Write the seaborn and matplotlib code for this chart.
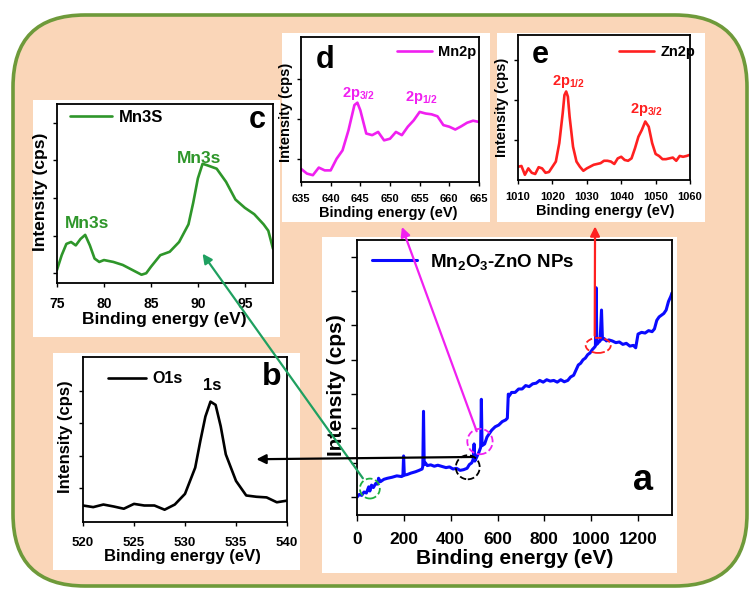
import matplotlib
matplotlib.use("Agg")
import matplotlib.pyplot as plt
import seaborn as sns
import pandas as pd
from matplotlib.patches import FancyBboxPatch, Rectangle, Ellipse, ConnectionPatch

# ---- data (intensity in arbitrary units) ----
# (a) survey spectrum
survey_ev = [0, 10, 20, 30, 40, 50, 55, 62, 70, 80, 88, 92, 100, 115, 130, 150, 170, 190,
             196, 199, 202, 215, 230, 250, 265, 278, 281, 284, 287, 292, 300, 315, 330, 345,
             360, 380, 395, 410, 425, 440, 455, 470, 480, 490, 496, 500, 503, 510, 520, 528,
             531, 534, 545, 555, 565, 575, 590, 605, 620, 635, 642, 646, 650, 660, 675, 690,
             705, 720, 735, 750, 765, 780, 795, 810, 825, 840, 855, 870, 885, 900, 912, 925,
             935, 945, 955, 965, 975, 985, 995, 1005, 1012, 1018, 1021, 1024, 1030, 1038,
             1044, 1048, 1055, 1065, 1075, 1090, 1105, 1120, 1135, 1150, 1165, 1180, 1190,
             1195, 1200, 1215, 1230, 1245, 1260, 1270, 1280, 1290, 1300, 1310, 1320, 1330,
             1340, 1345]
survey_int = [0.00, 0.08, 0.05, 0.15, 0.12, 0.30, 0.18, 0.35, 0.28, 0.40, 0.38, 0.55, 0.45,
              0.52, 0.55, 0.58, 0.62, 0.60, 0.62, 1.20, 0.64, 0.66, 0.70, 0.74, 0.78, 0.82,
              0.90, 2.50, 0.95, 1.00, 0.92, 0.94, 0.90, 0.93, 0.90, 0.86, 0.88, 0.82, 0.84,
              0.78, 0.80, 0.84, 0.95, 1.00, 1.10, 1.55, 1.05, 1.15, 1.30, 1.45, 2.85, 1.50,
              1.55, 1.75, 1.85, 1.95, 2.05, 2.10, 2.20, 2.25, 2.30, 3.00, 2.95, 3.05, 3.05,
              3.15, 3.15, 3.25, 3.22, 3.30, 3.32, 3.40, 3.35, 3.42, 3.38, 3.40, 3.35, 3.42,
              3.36, 3.40, 3.50, 3.55, 3.70, 3.85, 3.90, 4.00, 4.05, 4.15, 4.20, 4.30, 4.35,
              4.40, 6.10, 4.45, 4.50, 4.55, 5.45, 4.60, 4.62, 4.55, 4.58, 4.55, 4.50, 4.52,
              4.45, 4.48, 4.40, 4.42, 4.35, 4.55, 4.75, 4.80, 4.78, 4.85, 4.82, 4.90, 5.15,
              5.25, 5.30, 5.35, 5.45, 5.70, 5.85, 5.95]

# (b) O1s
o1s_ev = [520, 521, 522, 523, 524, 525, 526, 527, 528, 529, 530, 531, 531.5, 532, 532.5,
          533, 533.5, 534, 535, 536, 537, 538, 539, 540]
o1s_int = [0.46, 0.41, 0.49, 0.43, 0.36, 0.51, 0.46, 0.46, 0.33, 0.49, 0.82, 1.63, 2.45,
           3.21, 3.67, 3.57, 2.91, 2.04, 1.22, 0.77, 0.73, 0.71, 0.56, 0.61]

# (c) Mn3s
mn3s_ev = [75, 75.5, 76, 76.5, 77, 77.5, 78, 78.5, 79, 79.5, 80, 81, 82, 83, 84, 84.5, 85,
           86, 87, 88, 89, 89.5, 90, 90.5, 91, 92, 93, 94, 95, 96, 97, 97.5, 98]
mn3s_int = [0.09, 0.48, 0.78, 0.83, 0.74, 0.91, 1.02, 0.74, 0.39, 0.30, 0.35, 0.30, 0.22,
            0.09, -0.04, 0.00, 0.17, 0.48, 0.57, 0.83, 1.30, 1.87, 2.52, 2.91, 2.87, 2.78,
            2.43, 1.96, 1.74, 1.57, 1.30, 1.13, 0.65]

# (d) Mn2p
mn2p_ev = [635, 636, 637, 638, 639, 640, 641, 642, 643, 644, 644.5, 645, 646, 647, 648, 649,
           650, 651, 652, 653, 654, 655, 656, 657, 658, 659, 660, 661, 662, 663, 664, 665]
mn2p_int = [0.75, 0.63, 0.59, 0.78, 0.71, 0.71, 1.00, 1.21, 1.71, 2.34, 2.40, 2.21, 1.63,
            1.59, 1.67, 1.46, 1.50, 1.67, 1.59, 1.80, 1.96, 2.17, 2.13, 2.11, 2.06, 1.84,
            1.80, 1.73, 1.81, 1.90, 1.95, 1.92]

# (e) Zn2p
zn2p_ev = [1010, 1011, 1012, 1013, 1014, 1015, 1016, 1017, 1018, 1019, 1020, 1021, 1022,
           1023, 1023.5, 1024, 1024.5, 1025, 1026, 1027, 1028, 1029, 1030, 1032, 1034, 1035,
           1036, 1037, 1038, 1039, 1040, 1041, 1042, 1043, 1044, 1045, 1046, 1047, 1048,
           1049, 1050, 1051, 1052, 1053, 1054, 1055, 1056, 1057, 1058, 1059, 1060]
zn2p_int = [0.33, 0.35, 0.13, 0.29, 0.18, 0.15, 0.32, 0.29, 0.18, 0.20, 0.33, 0.46, 0.92,
            1.67, 2.12, 2.21, 2.08, 1.58, 0.83, 0.46, 0.33, 0.23, 0.29, 0.38, 0.42, 0.48,
            0.48, 0.46, 0.40, 0.54, 0.58, 0.50, 0.48, 0.54, 0.79, 1.08, 1.25, 1.46, 1.33,
            0.92, 0.65, 0.60, 0.52, 0.52, 0.54, 0.56, 0.48, 0.60, 0.58, 0.60, 0.63]

BLUE = "#0a0aff"
GREEN = "#2e962a"
ARROW_GREEN = "#1fa060"
MAGENTA = "#f020f0"
RED = "#ff2020"
PEACH = "#fad6b8"
FRAME = "#6e9a3a"

sns.set_theme(style="ticks")
plt.rcParams["font.family"] = ["Liberation Sans", "DejaVu Sans"]
plt.rcParams["font.weight"] = "bold"
plt.rcParams["axes.labelweight"] = "bold"
plt.rcParams["mathtext.default"] = "regular"
plt.rcParams["axes.edgecolor"] = "black"
plt.rcParams["xtick.color"] = "black"
plt.rcParams["ytick.color"] = "black"
plt.rcParams["text.color"] = "black"
plt.rcParams["axes.labelcolor"] = "black"
plt.rcParams["lines.solid_joinstyle"] = "round"

W, H = 755, 592
fig = plt.figure(figsize=(W / 100, H / 100), dpi=100)


def px_rect(x0, y0, x1, y1):
    return [x0 / W, 1 - y1 / H, (x1 - x0) / W, (y1 - y0) / H]


# rounded peach background with green frame
bg = FancyBboxPatch((0.13, 0.06), 7.34, 5.71, boxstyle="round,pad=0,rounding_size=0.72",
                    transform=fig.dpi_scale_trans, facecolor=PEACH, edgecolor=FRAME,
                    linewidth=2.6, zorder=-5)
fig.add_artist(bg)

# white panels behind each plot
for box in [(322, 237, 677, 573), (33, 100, 280, 337), (53, 353, 300, 570),
            (282, 33, 490, 222), (497, 33, 705, 222)]:
    r = Rectangle((box[0] / W, 1 - box[3] / H), (box[2] - box[0]) / W, (box[3] - box[1]) / H,
                  transform=fig.transFigure, facecolor="white", edgecolor="none", zorder=-4)
    fig.add_artist(r)


def style_axis(ax, xlim, ylim, xticks, yticks, tick_fs, label_fs, pad, xlab_pos, ylab_pos):
    ax.set_xlim(*xlim)
    ax.set_ylim(*ylim)
    ax.set_xticks(xticks)
    ax.set_yticks(yticks)
    ax.set_yticklabels([])
    ax.tick_params(axis="both", direction="out", length=3, width=1, labelsize=tick_fs, pad=pad)
    ax.set_xlabel("Binding energy (eV)", fontsize=label_fs)
    ax.set_ylabel("Intensity (cps)", fontsize=label_fs)
    ax.xaxis.set_label_coords(*xlab_pos)
    ax.yaxis.set_label_coords(*ylab_pos)
    for s in ax.spines.values():
        s.set_visible(True)
        s.set_linewidth(1.3)
        s.set_color("black")


def add_legend(ax, x, y, fs, hl, tp=0.5):
    ax.legend(loc="center left", bbox_to_anchor=(x, y), frameon=False, borderpad=0,
              handlelength=hl, handletextpad=tp, prop={"weight": "bold", "size": fs})


# ---- (a) survey ----
ax_a = fig.add_axes(px_rect(357, 240, 672, 515))
sns.lineplot(x=survey_ev, y=survey_int, ax=ax_a, color=BLUE, lw=2.2,
             label="Mn$_2$O$_3$-ZnO NPs", sort=False)
style_axis(ax_a, (0, 1345), (-0.52, 7.49), [0, 200, 400, 600, 800, 1000, 1200],
           list(range(8)), 12.5, 15, 8, (0.5, -0.125), (-0.036, 0.473))
ax_a.tick_params(axis="both", length=4)
add_legend(ax_a, 0.019, 0.92, 13.5, 2.4, 0.7)
ax_a.text(0.908, 0.127, "a", transform=ax_a.transAxes, fontsize=26, ha="center", va="center")
for (cx, cy, w, h, col) in [(55, 0.25, 85, 0.58, "#20b040"), (473, 0.87, 102, 0.70, "black"),
                            (525, 1.62, 108, 0.74, MAGENTA), (1030, 4.42, 107, 0.44, RED)]:
    ax_a.add_patch(Ellipse((cx, cy), w, h, fill=False, ls="--", lw=1.3, edgecolor=col, zorder=4))

# ---- (c) Mn3s ----
ax_c = fig.add_axes(px_rect(57, 104, 273, 283))
sns.lineplot(x=mn3s_ev, y=mn3s_int, ax=ax_c, color=GREEN, lw=1.9, label="Mn3S", sort=False)
style_axis(ax_c, (75, 98), (-0.26, 4.5), [75, 80, 85, 90, 95], [0, 1, 2, 3, 4],
           10, 12.5, 7, (0.495, -0.16), (-0.04, 0.51))
add_legend(ax_c, 0.023, 0.927, 12, 2.5, 0.4)
ax_c.text(0.926, 0.91, "c", transform=ax_c.transAxes, fontsize=22, ha="center", va="center")
ax_c.text(78.2, 1.32, "Mn3s", color=GREEN, fontsize=12.5, ha="center", va="center")
ax_c.text(90.1, 3.04, "Mn3s", color=GREEN, fontsize=12.5, ha="center", va="center")

# ---- (b) O1s ----
ax_b = fig.add_axes(px_rect(83, 357, 287, 522))
sns.lineplot(x=o1s_ev, y=o1s_int, ax=ax_b, color="black", lw=1.9, label="O1s", sort=False)
style_axis(ax_b, (520, 540), (-0.05, 5.05), [520, 525, 530, 535, 540], [1, 2, 3, 4],
           9.5, 12, 8, (0.485, -0.165), (-0.047, 0.52))
add_legend(ax_b, 0.083, 0.867, 11.5, 2.4, 0.4)
ax_b.text(0.926, 0.879, "b", transform=ax_b.transAxes, fontsize=23, ha="center", va="center")
ax_b.text(532.7, 4.18, "1s", fontsize=12, ha="center", va="center")

# ---- (d) Mn2p ----
ax_d = fig.add_axes(px_rect(301, 37, 479, 182))
sns.lineplot(x=mn2p_ev, y=mn2p_int, ax=ax_d, color=MAGENTA, lw=1.9, label="Mn2p", sort=False)
style_axis(ax_d, (635, 665), (0.42, 4.04), [635, 640, 645, 650, 655, 660, 665], [1, 2, 3],
           8, 10.5, 6, (0.49, -0.165), (-0.043, 0.48))
add_legend(ax_d, 0.5, 0.897, 10.5, 2.4, 0.4)
ax_d.text(0.135, 0.84, "d", transform=ax_d.transAxes, fontsize=22, ha="center", va="center")
ax_d.text(644.7, 2.64, "2p$_{3/2}$", color=MAGENTA, fontsize=10.5, ha="center", va="center")
ax_d.text(655.3, 2.54, "2p$_{1/2}$", color=MAGENTA, fontsize=10.5, ha="center", va="center")

# ---- (e) Zn2p ----
ax_e = fig.add_axes(px_rect(518, 35, 690, 180))
sns.lineplot(x=zn2p_ev, y=zn2p_int, ax=ax_e, color=RED, lw=1.9, label="Zn2p", sort=False)
style_axis(ax_e, (1010, 1060), (0, 3.62), [1010, 1020, 1030, 1040, 1050, 1060], [1, 2, 3],
           8, 10.5, 6, (0.506, -0.165), (-0.055, 0.50))
add_legend(ax_e, 0.547, 0.883, 10.5, 2.4, 0.4)
ax_e.text(0.128, 0.862, "e", transform=ax_e.transAxes, fontsize=22, ha="center", va="center")
ax_e.text(1024.6, 2.46, "2p$_{1/2}$", color=RED, fontsize=10.5, ha="center", va="center")
ax_e.text(1047.4, 1.75, "2p$_{3/2}$", color=RED, fontsize=10.5, ha="center", va="center")

# ---- arrows from the survey to the zoomed regions ----
links = [((25, 0.55), ax_c.transData, (90.5, 0.52), ARROW_GREEN),
         ((491, 1.17), ax_b.transData, (537.0, 1.89), "black"),
         ((511, 1.92), ax_d.transAxes, (0.567, -0.31), MAGENTA),
         ((1015, 4.70), ax_e.transAxes, (0.448, -0.32), RED)]
for start, tr, end, col in links:
    con = ConnectionPatch(xyA=start, coordsA=ax_a.transData, xyB=end, coordsB=tr,
                          arrowstyle="-|>", mutation_scale=14, color=col, lw=1.6, zorder=10)
    fig.add_artist(con)

fig.savefig("out.png", dpi=100)
